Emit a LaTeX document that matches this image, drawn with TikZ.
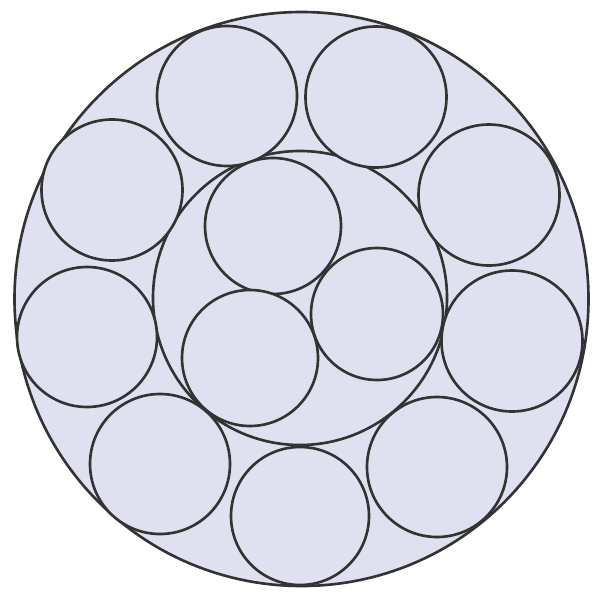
\documentclass[tikz,border=0pt]{standalone}
\begin{document}
\begin{tikzpicture}[x=0.01cm,y=-0.01cm,
  disc/.style={draw=black!80, line width=0.75pt, fill=lav},
  ]
\definecolor{lav}{HTML}{DFE1F1}
\useasboundingbox (0,0) rectangle (600,600);
\fill[white] (0,0) rectangle (600,600);
% outer
\draw[disc] (301.5,299) circle (287);
% inner
\draw[disc] (300,298) circle (147);
% ring of nine
\draw[disc] (227,96) circle (70);
\draw[disc] (376,97) circle (70.5);
\draw[disc] (112,190) circle (70.5);
\draw[disc] (489,195) circle (70.5);
\draw[disc] (87,337) circle (70);
\draw[disc] (512,341) circle (70.5);
\draw[disc] (160,464) circle (70);
\draw[disc] (300,516) circle (69);
\draw[disc] (437,467) circle (70);
% inner three
\draw[disc] (273,226) circle (68);
\draw[disc] (377,314) circle (66);
\draw[disc] (250,358) circle (68);
\end{tikzpicture}
\end{document}
